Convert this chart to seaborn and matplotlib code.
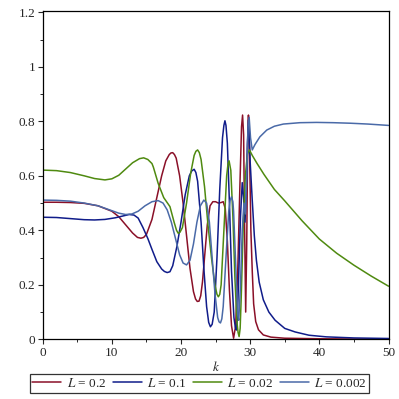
import numpy as np
import pandas as pd
import matplotlib
matplotlib.use('Agg')
import matplotlib.pyplot as plt
import seaborn as sns
from matplotlib.ticker import MultipleLocator

# 曲线数据
k_02 = [0, 2, 4, 6, 8, 10, 11, 12, 13, 13.7, 14.2, 14.6, 15, 15.8, 16.5, 17.2, 17.8, 18.3,
        18.55, 18.8, 19.05, 19.3, 19.8, 20.3, 20.8, 21.3, 21.8, 22.1, 22.35, 22.6, 22.85,
        23.1, 23.4, 23.8, 24.2, 24.6, 25.0, 25.4, 25.8, 26.1, 26.4, 26.7, 27.0, 27.3, 27.6,
        27.9, 28.2, 28.5, 28.75, 28.9, 29.05, 29.2, 29.35, 29.5, 29.65, 29.75, 29.9, 30.1,
        30.3, 30.5, 30.8, 31.2, 31.9, 33, 35, 40, 45, 50]
y_02 = [0.503, 0.503, 0.502, 0.499, 0.490, 0.470, 0.450, 0.420, 0.390, 0.374, 0.371, 0.374,
        0.385, 0.44, 0.52, 0.60, 0.655, 0.678, 0.684, 0.685, 0.678, 0.665, 0.60, 0.50, 0.38,
        0.26, 0.175, 0.148, 0.139, 0.140, 0.16, 0.21, 0.30, 0.42, 0.49, 0.505, 0.505, 0.500,
        0.502, 0.505, 0.48, 0.36, 0.18, 0.05, 0.004, 0.05, 0.25, 0.55, 0.78, 0.823, 0.75,
        0.40, 0.10, 0.35, 0.75, 0.823, 0.70, 0.40, 0.25, 0.13, 0.065, 0.035, 0.016, 0.008,
        0.004, 0.002, 0.001, 0.001]

k_01 = [0, 2, 4, 6, 7.5, 9, 10.5, 11.5, 12.5, 13.2, 13.8, 14.5, 15.2, 15.8, 16.5, 17.2,
        17.6, 18.0, 18.4, 18.8, 19.4, 20.0, 20.6, 21.2, 21.55, 21.9, 22.15, 22.4, 22.9, 23.3,
        23.7, 24.0, 24.25, 24.5, 24.8, 25.2, 25.6, 26.0, 26.2, 26.35, 26.5, 26.7, 27.0, 27.3,
        27.65, 27.85, 28.0, 28.15, 28.3, 28.6, 28.85, 29.05, 29.25, 29.45, 29.6, 29.75, 29.9,
        30.0, 30.3, 30.6, 30.9, 31.3, 31.9, 32.7, 33.6, 35, 36.5, 38.5, 41, 45, 50]
y_01 = [0.448, 0.447, 0.443, 0.439, 0.438, 0.440, 0.446, 0.452, 0.458, 0.456, 0.445, 0.41,
        0.37, 0.33, 0.285, 0.258, 0.249, 0.245, 0.248, 0.27, 0.34, 0.43, 0.53, 0.60, 0.618,
        0.624, 0.612, 0.58, 0.43, 0.26, 0.12, 0.062, 0.046, 0.055, 0.10, 0.30, 0.55, 0.74,
        0.785, 0.802, 0.785, 0.72, 0.50, 0.25, 0.08, 0.045, 0.034, 0.08, 0.20, 0.45, 0.575,
        0.52, 0.43, 0.55, 0.72, 0.805, 0.72, 0.65, 0.51, 0.38, 0.29, 0.21, 0.145, 0.10,
        0.07, 0.04, 0.027, 0.015, 0.009, 0.005, 0.003]

k_002 = [0, 2, 4, 6, 7.5, 9, 10, 11, 12, 13, 14, 14.6, 15.2, 15.8, 16.0, 16.7, 17.5, 18.4,
         19.0, 19.35, 19.6, 19.85, 20.2, 20.8, 21.4, 21.9, 22.15, 22.4, 22.65, 22.9, 23.4,
         23.9, 24.4, 24.9, 25.2, 25.4, 25.6, 25.8, 26.2, 26.6, 26.8, 26.95, 27.2, 27.5, 27.8,
         28.1, 28.25, 28.4, 28.55, 28.7, 29.0, 29.3, 29.6, 29.9, 30.3, 31, 32, 33.5, 35, 37.5,
         40, 42.5, 45, 47.5, 50]
y_002 = [0.621, 0.619, 0.612, 0.600, 0.590, 0.585, 0.589, 0.602, 0.625, 0.648, 0.663, 0.666,
         0.660, 0.645, 0.632, 0.572, 0.52, 0.487, 0.43, 0.400, 0.389, 0.393, 0.41, 0.50,
         0.61, 0.675, 0.69, 0.695, 0.685, 0.66, 0.56, 0.42, 0.30, 0.20, 0.165, 0.156, 0.165,
         0.20, 0.40, 0.60, 0.645, 0.655, 0.62, 0.45, 0.22, 0.06, 0.025, 0.01, 0.04, 0.15,
         0.42, 0.60, 0.68, 0.695, 0.675, 0.645, 0.605, 0.55, 0.508, 0.435, 0.368, 0.316,
         0.272, 0.232, 0.195]

k_0002 = [0, 2, 4, 6, 8, 10, 11, 12, 12.9, 13.8, 14.8, 15.8, 16.7, 17.4, 18.0, 18.6, 19.2,
          19.8, 20.3, 20.8, 21.3, 21.8, 22.3, 22.8, 23.3, 23.7, 24.1, 24.5, 24.9, 25.3, 25.5,
          25.7, 25.9, 26.1, 26.5, 26.9, 27.1, 27.3, 27.5, 27.6, 27.9, 28.2, 28.35, 28.6, 28.85,
          29.1, 29.3, 29.5, 29.7, 29.85, 30.05, 30.3, 30.7, 31.4, 32.4, 33.5, 34.8, 37.2, 39.6,
          42, 44.5, 47, 50]
y_0002 = [0.511, 0.510, 0.507, 0.500, 0.490, 0.472, 0.463, 0.458, 0.460, 0.47, 0.49, 0.505,
          0.509, 0.50, 0.475, 0.43, 0.37, 0.31, 0.28, 0.273, 0.29, 0.35, 0.43, 0.49, 0.511,
          0.50, 0.43, 0.30, 0.17, 0.08, 0.064, 0.06, 0.075, 0.12, 0.30, 0.47, 0.51, 0.523,
          0.505, 0.47, 0.28, 0.09, 0.07, 0.20, 0.40, 0.50, 0.46, 0.60, 0.78, 0.815, 0.74,
          0.695, 0.715, 0.743, 0.768, 0.782, 0.790, 0.795, 0.796, 0.795, 0.793, 0.790, 0.785]

labels = ['$L$ = 0.2', '$L$ = 0.1', '$L$ = 0.02', '$L$ = 0.002']
colors = ['#8a1028', '#101c8a', '#4f8a10', '#4a6aa8']
y_ticks = [0, 0.2, 0.4, 0.6, 0.8, 1.0, 1.2]
y_ticklabels = ['0', '0.2', '0.4', '0.6', '0.8', '1', '1.2']
x_ticks = [0, 10, 20, 30, 40, 50]

sns.set_style('ticks')
plt.rcParams['font.family'] = ['Liberation Serif', 'DejaVu Serif']
plt.rcParams['mathtext.fontset'] = 'stix'
plt.rcParams['font.size'] = 9.5

series = [(k_02, y_02), (k_01, y_01), (k_002, y_002), (k_0002, y_0002)]

fig = plt.figure(figsize=(3.99, 3.99), dpi=100)
ax = fig.add_axes([0.107, 0.1496, 0.8667, 0.8236])

for (kk, yy), lab, col in zip(series, labels, colors):
    df = pd.DataFrame({'k': kk, 'v': yy})
    sns.lineplot(data=df, x='k', y='v', color=col, linewidth=1.1, ax=ax, label=lab)

handles, labs = ax.get_legend_handles_labels()
if ax.get_legend() is not None:
    ax.get_legend().remove()

ax.set_xlim(0, 50)
ax.set_ylim(0, 1.206)
ax.set_xticks(x_ticks)
ax.set_xticklabels([str(t) for t in x_ticks])
ax.set_yticks(y_ticks)
ax.set_yticklabels(y_ticklabels)
ax.xaxis.set_minor_locator(MultipleLocator(5))
ax.yaxis.set_minor_locator(MultipleLocator(0.1))
ax.tick_params(which='major', direction='out', length=3.5, width=0.8, pad=2, labelsize=9.5)
ax.tick_params(which='minor', direction='out', length=2, width=0.7)
for s in ax.spines.values():
    s.set_linewidth(0.9)
    s.set_color('black')
ax.set_xlabel('$k$', fontsize=9.5, labelpad=1)
ax.set_ylabel('')

leg = fig.legend(handles, labels, loc='center', bbox_to_anchor=(0.5, 0.039), ncol=4,
                 frameon=True, fancybox=False, edgecolor='black', fontsize=9.5,
                 handlelength=2.2, handletextpad=0.4, columnspacing=0.5,
                 borderpad=0.2, borderaxespad=0)
leg.get_frame().set_linewidth(0.9)

fig.savefig('out.png', dpi=100)
